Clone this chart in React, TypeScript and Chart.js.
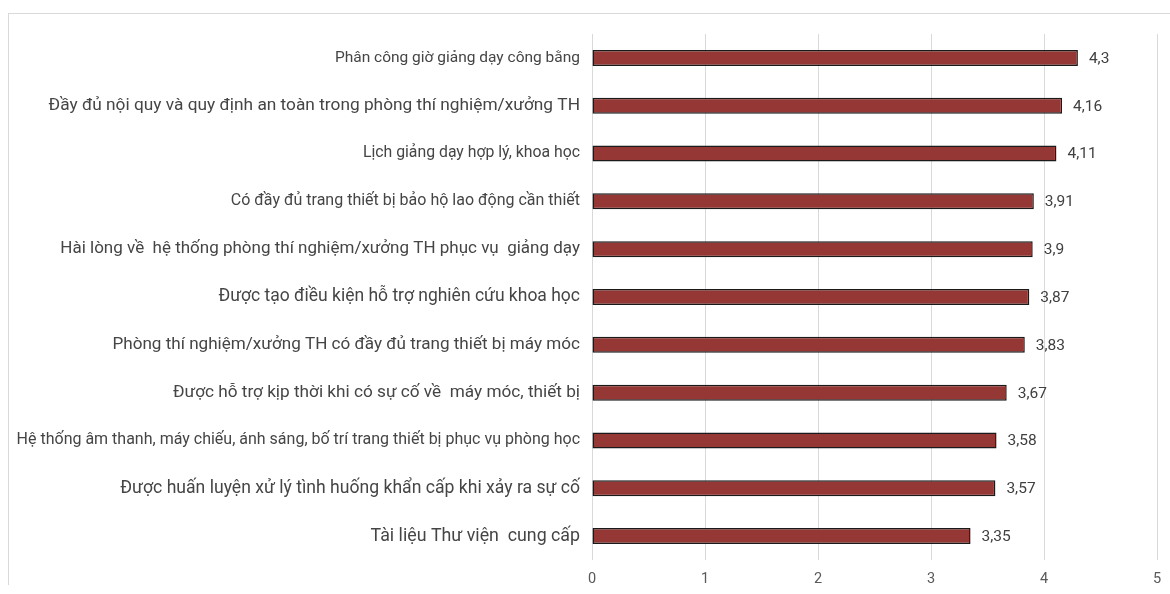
import React, { useEffect, useRef } from "react";
import { Chart, registerables } from "chart.js";

Chart.register(...registerables);

const categories: string[] = [
  "Phân công giờ giảng dạy công bằng",
  "Đầy đủ nội quy và quy định an toàn trong phòng thí nghiệm/xưởng TH",
  "Lịch giảng dạy hợp lý, khoa học",
  "Có đầy đủ trang thiết bị bảo hộ lao động cần thiết",
  "Hài lòng về  hệ thống phòng thí nghiệm/xưởng TH phục vụ  giảng dạy",
  "Được tạo điều kiện hỗ trợ nghiên cứu khoa học",
  "Phòng thí nghiệm/xưởng TH có đầy đủ trang thiết bị máy móc",
  "Được hỗ trợ kịp thời khi có sự cố về  máy móc, thiết bị",
  "Hệ thống âm thanh, máy chiếu, ánh sáng, bố trí trang thiết bị phục vụ phòng học",
  "Được huấn luyện xử lý tình huống khẩn cấp khi xảy ra sự cố",
  "Tài liệu Thư viện  cung cấp",
];

const scores: number[] = [4.3, 4.16, 4.11, 3.91, 3.9, 3.87, 3.83, 3.67, 3.58, 3.57, 3.35];

const xTicks: number[] = [0, 1, 2, 3, 4, 5];

// Category label text sizes (px), row by row
const labelSizes: number[] = [15.5, 17.3, 15.8, 16, 17, 17.5, 17.1, 17.2, 16, 17.6, 17.8];

const FONT = "Roboto, 'Liberation Sans', sans-serif";

// Writes each score just past the end of its bar, with a comma as decimal mark
const valueLabels = {
  id: "valueLabels",
  afterDatasetsDraw(chart: any) {
    const ctx = chart.ctx;
    const meta = chart.getDatasetMeta(0);
    ctx.save();
    ctx.font = `15.5px ${FONT}`;
    ctx.fillStyle = "#404040";
    ctx.textAlign = "left";
    ctx.textBaseline = "middle";
    meta.data.forEach((bar: any, i: number) => {
      const text = String(scores[i]).replace(".", ",");
      ctx.fillText(text, bar.x + 11, bar.y + 1);
    });
    ctx.restore();
  },
};

export default function App() {
  const canvasRef = useRef<HTMLCanvasElement | null>(null);

  useEffect(() => {
    if (!canvasRef.current) return;
    const chart = new Chart(canvasRef.current, {
      type: "bar",
      data: {
        labels: categories,
        datasets: [
          {
            data: scores,
            backgroundColor: "#953735",
            borderColor: "#1a1a1a",
            borderWidth: 1.5,
            borderSkipped: false,
            barPercentage: 0.335,
            categoryPercentage: 1,
          },
        ],
      },
      options: {
        indexAxis: "y",
        animation: false,
        responsive: false,
        maintainAspectRatio: false,
        layout: { padding: { top: 20, right: 13, left: 0, bottom: 0 } },
        plugins: {
          legend: { display: false },
          tooltip: { enabled: false },
          title: { display: false },
        },
        scales: {
          x: {
            min: 0,
            max: 5,
            afterBuildTicks: (axis: any) => {
              axis.ticks = xTicks.map((v) => ({ value: v }));
            },
            afterFit: (axis: any) => {
              axis.height = 25;
              axis.paddingLeft = 0;
              axis.paddingRight = 0;
            },
            grid: { color: "#d9d9d9", lineWidth: 1, drawTicks: false },
            border: { display: false },
            ticks: {
              padding: 11,
              color: "#595959",
              font: { family: FONT, size: 14.5 },
            },
          },
          y: {
            afterFit: (axis: any) => {
              axis.width = 583;
              axis.paddingTop = 0;
              axis.paddingBottom = 0;
            },
            grid: { display: false, drawTicks: false },
            border: { display: false },
            ticks: {
              padding: 12,
              color: "#454545",
              autoSkip: false,
              font: (ctx: any) => ({ family: FONT, size: labelSizes[ctx.index] ?? 16 }),
            },
          },
        },
      },
      plugins: [valueLabels],
    });
    return () => chart.destroy();
  }, []);

  return (
    <div
      style={{
        position: "absolute",
        left: 8,
        top: 13,
        width: 1162,
        height: 572,
        borderTop: "1px solid #d9d9d9",
        borderLeft: "1px solid #d9d9d9",
        boxSizing: "border-box",
        overflow: "hidden",
      }}
    >
      <canvas ref={canvasRef} width={1161} height={571} style={{ display: "block" }} />
    </div>
  );
}
